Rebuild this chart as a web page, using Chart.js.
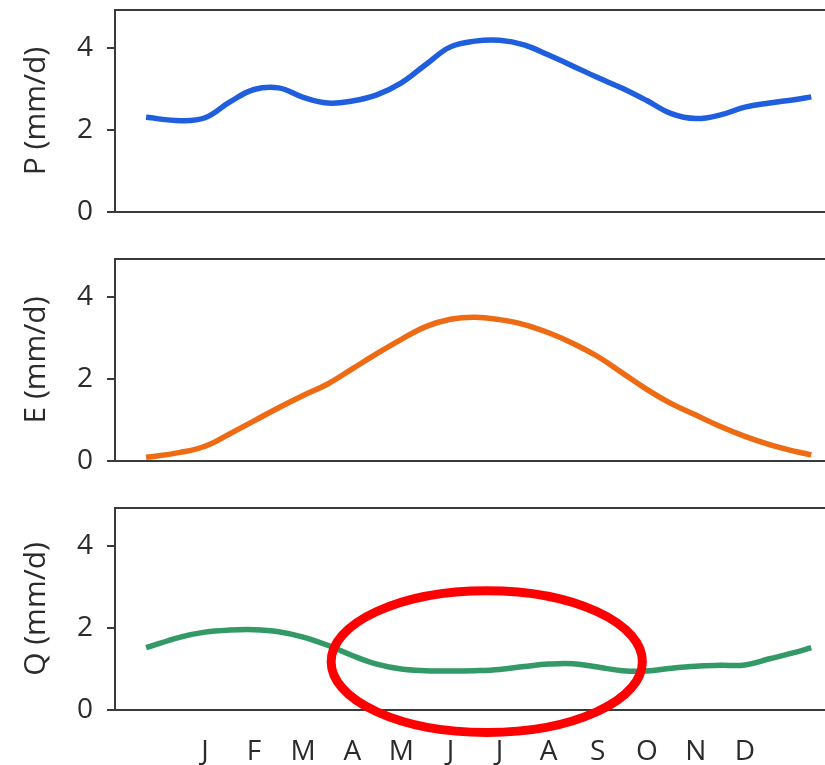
<!DOCTYPE html>
<html>
<head>
<meta charset="utf-8">
<script src="https://cdn.jsdelivr.net/npm/chart.js@4.4.1/dist/chart.umd.min.js"></script>
<style>
  html, body { margin: 0; padding: 0; background: #fff; }
  #wrap { position: relative; width: 825px; height: 765px; overflow: hidden; }
  .panel { position: absolute; left: 0; width: 825px; }
</style>
</head>
<body>
<div id="wrap">
  <div class="panel" style="top:0;height:225px"><canvas id="pChart"></canvas></div>
  <div class="panel" style="top:249px;height:225px"><canvas id="eChart"></canvas></div>
  <div class="panel" style="top:498px;height:267px"><canvas id="qChart"></canvas></div>
</div>
<script>
// month labels and where they sit on the x axis (month number)
const months = ['J', 'F', 'M', 'A', 'M', 'J', 'J', 'A', 'S', 'O', 'N', 'D'];
const monthPos = [1, 2, 3, 4, 5, 6, 7, 8, 9, 10, 11, 12];

// sample positions along the year (in month units)
const xPos = [-0.2, 0.5, 1, 1.5, 2, 2.5, 3, 3.5, 4, 4.5, 5, 5.5, 6, 6.5, 7,
  7.5, 8, 8.5, 9, 9.5, 10, 10.5, 11, 11.5, 12, 12.5, 13, 13.35];

// precipitation, evaporation, runoff (mm/d)
const pVals = [2.31, 2.23, 2.30, 2.68, 2.99, 3.03, 2.80, 2.66, 2.71, 2.86, 3.15, 3.60, 4.03, 4.17,
  4.19, 4.08, 3.83, 3.56, 3.28, 3.02, 2.72, 2.40, 2.28, 2.37, 2.56, 2.66, 2.74, 2.81];
const eVals = [0.09, 0.21, 0.36, 0.66, 0.98, 1.30, 1.60, 1.88, 2.25, 2.62, 2.97, 3.28, 3.46, 3.51,
  3.45, 3.33, 3.13, 2.87, 2.55, 2.15, 1.75, 1.40, 1.12, 0.84, 0.60, 0.40, 0.24, 0.15];
const qVals = [1.52, 1.78, 1.90, 1.95, 1.96, 1.91, 1.78, 1.58, 1.33, 1.12, 1.00, 0.96, 0.95, 0.96,
  0.99, 1.06, 1.12, 1.13, 1.05, 0.96, 0.95, 1.02, 1.07, 1.09, 1.10, 1.25, 1.40, 1.52];

const yTicks = [0, 2, 4];

// red ring drawn over the summer part of Q (data units)
const ringNote = { cx: 6.74, cy: 1.18, rx: 3.17, ry: 1.73 };

const xMin = -0.833;
const xMax = 13.63;
const yMax = 4.93;
const axisColor = '#3a3a3a';
const textColor = '#2b2b2b';
const fontFamily = '"Open Sans", "DejaVu Sans", sans-serif';

const ringPlugin = {
  id: 'ringNote',
  afterDatasetsDraw(chart) {
    const { ctx, scales: { x, y } } = chart;
    const px = x.getPixelForValue(ringNote.cx);
    const py = y.getPixelForValue(ringNote.cy);
    const rx = Math.abs(x.getPixelForValue(ringNote.cx + ringNote.rx) - px);
    const ry = Math.abs(y.getPixelForValue(ringNote.cy + ringNote.ry) - py);
    ctx.save();
    ctx.beginPath();
    ctx.ellipse(px, py, rx, ry, 0, 0, Math.PI * 2);
    ctx.strokeStyle = '#ff0000';
    ctx.lineWidth = 9;
    ctx.stroke();
    ctx.restore();
  }
};

function makePanel(id, label, values, color, showMonths, extra) {
  return new Chart(document.getElementById(id), {
    type: 'line',
    data: {
      datasets: [{
        data: xPos.map((x, i) => ({ x: x, y: values[i] })),
        borderColor: color,
        borderWidth: 5.5,
        pointRadius: 0,
        tension: 0.4,
        fill: false
      }]
    },
    options: {
      responsive: true,
      maintainAspectRatio: false,
      animation: false,
      layout: { padding: { top: 10, left: 0, right: 0, bottom: 0 } },
      plugins: { legend: { display: false }, tooltip: { enabled: false } },
      scales: {
        x: {
          type: 'linear',
          position: 'bottom',
          min: xMin,
          max: xMax,
          grid: { display: false, drawTicks: false },
          border: { display: true, color: axisColor, width: 2 },
          ticks: {
            display: showMonths,
            autoSkip: false,
            maxRotation: 0,
            padding: 25,
            color: textColor,
            font: { family: fontFamily, size: 28 },
            callback: (v) => months[v - 1]
          },
          afterBuildTicks: (s) => { s.ticks = monthPos.map(v => ({ value: v })); },
          afterFit: (s) => {
            s.height = showMonths ? 55 : 13;
            s.paddingLeft = 0;
            s.paddingRight = 0;
          }
        },
        xTop: {
          type: 'linear',
          position: 'top',
          min: xMin,
          max: xMax,
          grid: { display: false, drawTicks: false },
          border: { display: true, color: axisColor, width: 2 },
          ticks: { display: false },
          afterFit: (s) => { s.height = 0; }
        },
        y: {
          min: 0,
          max: yMax,
          grid: { drawOnChartArea: false, drawTicks: true, tickLength: 8, color: axisColor, lineWidth: 2 },
          border: { display: true, color: axisColor, width: 2 },
          ticks: {
            padding: 14,
            color: textColor,
            font: { family: fontFamily, size: 28 }
          },
          afterBuildTicks: (s) => { s.ticks = yTicks.map(v => ({ value: v })); },
          afterFit: (s) => {
            s.width = 115;
            s.paddingTop = 0;
            s.paddingBottom = 0;
          },
          title: {
            display: true,
            text: label,
            color: textColor,
            font: { family: fontFamily, size: 30 },
            padding: { top: 18, bottom: 0 }
          }
        }
      }
    },
    plugins: extra || []
  });
}

makePanel('pChart', 'P (mm/d)', pVals, '#1f5fdd', false);
makePanel('eChart', 'E (mm/d)', eVals, '#ee6b13', false);
makePanel('qChart', 'Q (mm/d)', qVals, '#339966', true, [ringPlugin]);
</script>
</body>
</html>
